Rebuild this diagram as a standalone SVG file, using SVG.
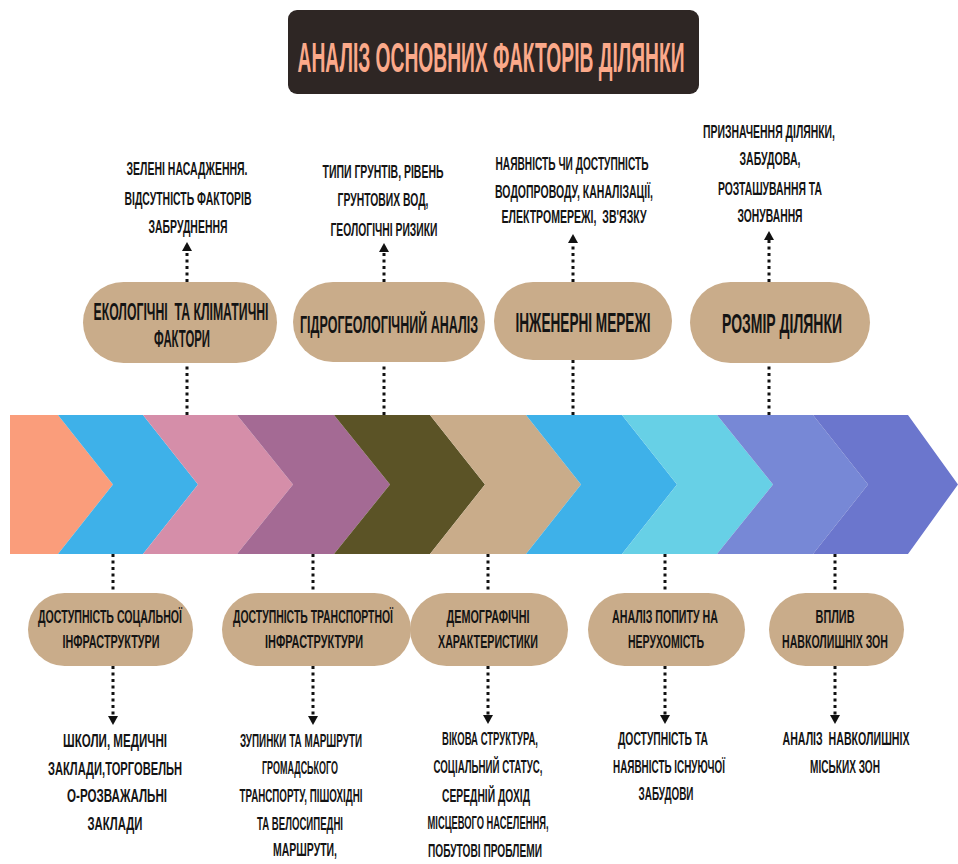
<svg xmlns="http://www.w3.org/2000/svg" width="958" height="864" viewBox="0 0 958 864">
<style>
.t{font-family:"Liberation Sans",Arial,sans-serif;font-weight:bold;fill:#141414;text-anchor:middle}
.s{font-size:18px}
.m{font-size:18.5px}
.l{font-size:23px}
.xl{font-size:28px}
.pre{white-space:pre}
.pill{fill:#c9ac8a}
.dot{stroke:#111;stroke-width:3;stroke-dasharray:3 3.5;fill:none}
</style>
<defs>
<marker id="ah" viewBox="0 0 9 10" refX="0" refY="5" markerWidth="9" markerHeight="10" markerUnits="userSpaceOnUse" orient="auto">
<path d="M0,0 L9,5 L0,10 z" fill="#111"/>
</marker>
</defs>
<rect width="958" height="864" fill="#fff"/>

<g id="title">
<rect x="288" y="10" width="411" height="84" rx="9" fill="#2e2624"/>
<text transform="translate(491,72) scale(0.44,1)" font-size="42" font-family="'Liberation Sans',Arial,sans-serif" font-weight="bold" fill="#fba98a" text-anchor="middle" textLength="879.5" lengthAdjust="spacingAndGlyphs">АНАЛІЗ ОСНОВНИХ ФАКТОРІВ ДІЛЯНКИ</text>
</g>

<g id="band">
<polygon points="10,415 58,415 113,484.5 58,554 10,554" fill="#fa9d7b"/>
<polygon points="58,415 143,415 198,484.5 143,554 58,554 113,484.5" fill="#3eb1e9"/>
<polygon points="143,415 237,415 293,484.5 237,554 143,554 198,484.5" fill="#d58ea9"/>
<polygon points="237,415 334,415 390,484.5 334,554 237,554 293,484.5" fill="#a46a94"/>
<polygon points="334,415 430,415 485,484.5 430,554 334,554 390,484.5" fill="#5b5326"/>
<polygon points="430,415 526,415 581,484.5 526,554 430,554 485,484.5" fill="#c9ac8a"/>
<polygon points="526,415 622,415 677,484.5 622,554 526,554 581,484.5" fill="#3eb1e9"/>
<polygon points="622,415 717,415 773,484.5 717,554 622,554 677,484.5" fill="#67d0e6"/>
<polygon points="717,415 813,415 868,484.5 813,554 717,554 773,484.5" fill="#7788d6"/>
<polygon points="813,415 908,415 958,484.5 908,554 813,554 868,484.5" fill="#6b76cd"/>
</g>

<g id="connectors">
<line class="dot" x1="187" y1="415" x2="187" y2="363"/>
<line class="dot" x1="187" y1="282" x2="187" y2="251" marker-end="url(#ah)"/>
<line class="dot" x1="384" y1="415" x2="384" y2="363"/>
<line class="dot" x1="384" y1="282" x2="384" y2="252" marker-end="url(#ah)"/>
<line class="dot" x1="573" y1="415" x2="573" y2="360"/>
<line class="dot" x1="573" y1="282" x2="573" y2="243" marker-end="url(#ah)"/>
<line class="dot" x1="769" y1="415" x2="769" y2="363"/>
<line class="dot" x1="769" y1="282" x2="769" y2="240" marker-end="url(#ah)"/>

<line class="dot" x1="113" y1="554" x2="113" y2="593"/>
<line class="dot" x1="113" y1="666" x2="113" y2="716" marker-end="url(#ah)"/>
<line class="dot" x1="313" y1="554" x2="313" y2="593"/>
<line class="dot" x1="313" y1="666" x2="313" y2="716" marker-end="url(#ah)"/>
<line class="dot" x1="488" y1="554" x2="488" y2="593"/>
<line class="dot" x1="488" y1="666" x2="488" y2="715" marker-end="url(#ah)"/>
<line class="dot" x1="665" y1="554" x2="665" y2="593"/>
<line class="dot" x1="665" y1="666" x2="665" y2="715" marker-end="url(#ah)"/>
<line class="dot" x1="835" y1="554" x2="835" y2="593"/>
<line class="dot" x1="835" y1="666" x2="835" y2="715" marker-end="url(#ah)"/>
</g>

<g id="eco">
<rect class="pill" x="83" y="282" width="194" height="81" rx="40.5"/>
<text class="t l pre" transform="translate(181,320) scale(0.52,1)" textLength="336.5" lengthAdjust="spacingAndGlyphs">ЕКОЛОГІЧНІ  ТА КЛІМАТИЧНІ</text>
<text class="t l" transform="translate(182,347) scale(0.52,1)" textLength="107.7" lengthAdjust="spacingAndGlyphs">ФАКТОРИ</text>
</g>
<g id="eco-note">
<text class="t s" transform="translate(187,175) scale(0.56,1)" textLength="216.1" lengthAdjust="spacingAndGlyphs">ЗЕЛЕНІ НАСАДЖЕННЯ.</text>
<text class="t s" transform="translate(188,205) scale(0.56,1)" textLength="226.8" lengthAdjust="spacingAndGlyphs">ВІДСУТНІСТЬ ФАКТОРІВ</text>
<text class="t s" transform="translate(188,233) scale(0.56,1)" textLength="141.1" lengthAdjust="spacingAndGlyphs">ЗАБРУДНЕННЯ</text>
</g>

<g id="hydro">
<rect class="pill" x="293" y="282" width="192" height="80" rx="40"/>
<text class="t l" transform="translate(389,333) scale(0.52,1)" textLength="342.3" lengthAdjust="spacingAndGlyphs">ГІДРОГЕОЛОГІЧНИЙ АНАЛІЗ</text>
</g>
<g id="hydro-note">
<text class="t s" transform="translate(383,178) scale(0.56,1)" textLength="216.1" lengthAdjust="spacingAndGlyphs">ТИПИ ГРУНТІВ, РІВЕНЬ</text>
<text class="t s" transform="translate(383,206) scale(0.56,1)" textLength="162.5" lengthAdjust="spacingAndGlyphs">ГРУНТОВИХ ВОД,</text>
<text class="t s" transform="translate(384,236) scale(0.56,1)" textLength="191.1" lengthAdjust="spacingAndGlyphs">ГЕОЛОГІЧНІ РИЗИКИ</text>
</g>

<g id="eng">
<rect class="pill" x="494" y="282" width="178" height="78" rx="39"/>
<text class="t xl" transform="translate(583,332) scale(0.48,1)" textLength="281.3" lengthAdjust="spacingAndGlyphs">ІНЖЕНЕРНІ МЕРЕЖІ</text>
</g>
<g id="eng-note">
<text class="t s" transform="translate(572,170) scale(0.56,1)" textLength="273.2" lengthAdjust="spacingAndGlyphs">НАЯВНІСТЬ ЧИ ДОСТУПНІСТЬ</text>
<text class="t s" transform="translate(574,198) scale(0.56,1)" textLength="282.1" lengthAdjust="spacingAndGlyphs">ВОДОПРОВОДУ, КАНАЛІЗАЦІЇ,</text>
<text class="t s pre" transform="translate(574,223) scale(0.56,1)" textLength="258.9" lengthAdjust="spacingAndGlyphs">ЕЛЕКТРОМЕРЕЖІ,  ЗВ'ЯЗКУ</text>
</g>

<g id="size">
<rect class="pill" x="690" y="282" width="180" height="81" rx="40.5"/>
<text class="t xl" transform="translate(782,333) scale(0.48,1)" textLength="250" lengthAdjust="spacingAndGlyphs">РОЗМІР ДІЛЯНКИ</text>
</g>
<g id="size-note">
<text class="t s" transform="translate(769,138) scale(0.56,1)" textLength="235.7" lengthAdjust="spacingAndGlyphs">ПРИЗНАЧЕННЯ ДІЛЯНКИ,</text>
<text class="t s" transform="translate(770,165) scale(0.56,1)" textLength="108.9" lengthAdjust="spacingAndGlyphs">ЗАБУДОВА,</text>
<text class="t s" transform="translate(770,195) scale(0.56,1)" textLength="185.7" lengthAdjust="spacingAndGlyphs">РОЗТАШУВАННЯ ТА</text>
<text class="t s" transform="translate(770,222) scale(0.56,1)" textLength="116.1" lengthAdjust="spacingAndGlyphs">ЗОНУВАННЯ</text>
</g>

<g id="social">
<rect class="pill" x="28" y="593" width="165" height="73" rx="36.5"/>
<text class="t m" transform="translate(110,623) scale(0.56,1)" textLength="257.1" lengthAdjust="spacingAndGlyphs">ДОСТУПНІСТЬ СОЦАЛЬНОЇ</text>
<text class="t m" transform="translate(111,648) scale(0.56,1)" textLength="173.2" lengthAdjust="spacingAndGlyphs">ІНФРАСТРУКТУРИ</text>
</g>
<g id="social-note">
<text class="t s" transform="translate(115,747) scale(0.56,1)" textLength="185.7" lengthAdjust="spacingAndGlyphs">ШКОЛИ, МЕДИЧНІ</text>
<text class="t s" transform="translate(115,775) scale(0.56,1)" textLength="239.3" lengthAdjust="spacingAndGlyphs">ЗАКЛАДИ,ТОРГОВЕЛЬН</text>
<text class="t s" transform="translate(117,802) scale(0.56,1)" textLength="178.6" lengthAdjust="spacingAndGlyphs">О-РОЗВАЖАЛЬНІ</text>
<text class="t s" transform="translate(115,830) scale(0.56,1)" textLength="98.2" lengthAdjust="spacingAndGlyphs">ЗАКЛАДИ</text>
</g>

<g id="transport">
<rect class="pill" x="222" y="593" width="189" height="73" rx="36.5"/>
<text class="t m" transform="translate(313,623) scale(0.56,1)" textLength="285.7" lengthAdjust="spacingAndGlyphs">ДОСТУПНІСТЬ ТРАНСПОРТНОЇ</text>
<text class="t m" transform="translate(314,648) scale(0.56,1)" textLength="175" lengthAdjust="spacingAndGlyphs">ІНФРАСТРУКТУРИ</text>
</g>
<g id="transport-note">
<text class="t s" transform="translate(301,747) scale(0.56,1)" textLength="217.9" lengthAdjust="spacingAndGlyphs">ЗУПИНКИ ТА МАРШРУТИ</text>
<text class="t s" transform="translate(300,774) scale(0.56,1)" textLength="135.7" lengthAdjust="spacingAndGlyphs">ГРОМАДСЬКОГО</text>
<text class="t s" transform="translate(301,802) scale(0.56,1)" textLength="219.6" lengthAdjust="spacingAndGlyphs">ТРАНСПОРТУ, ПІШОХІДНІ</text>
<text class="t s" transform="translate(300,830) scale(0.56,1)" textLength="153.6" lengthAdjust="spacingAndGlyphs">ТА ВЕЛОСИПЕДНІ</text>
<text class="t s" transform="translate(305,856) scale(0.56,1)" textLength="114.3" lengthAdjust="spacingAndGlyphs">МАРШРУТИ,</text>
</g>

<g id="demo">
<rect class="pill" x="410" y="593" width="158" height="73" rx="36.5"/>
<text class="t m" transform="translate(488,623) scale(0.56,1)" textLength="148.2" lengthAdjust="spacingAndGlyphs">ДЕМОГРАФІЧНІ</text>
<text class="t m" transform="translate(488,648) scale(0.56,1)" textLength="178.6" lengthAdjust="spacingAndGlyphs">ХАРАКТЕРИСТИКИ</text>
</g>
<g id="demo-note">
<text class="t s" transform="translate(490,745) scale(0.56,1)" textLength="171.4" lengthAdjust="spacingAndGlyphs">ВІКОВА СТРУКТУРА,</text>
<text class="t s" transform="translate(488,773) scale(0.56,1)" textLength="194.6" lengthAdjust="spacingAndGlyphs">СОЦІАЛЬНИЙ СТАТУС,</text>
<text class="t s" transform="translate(486,802) scale(0.56,1)" textLength="157.1" lengthAdjust="spacingAndGlyphs">СЕРЕДНІЙ ДОХІД</text>
<text class="t s" transform="translate(488,829) scale(0.56,1)" textLength="216.1" lengthAdjust="spacingAndGlyphs">МІСЦЕВОГО НАСЕЛЕННЯ,</text>
<text class="t s" transform="translate(485,857) scale(0.56,1)" textLength="203.6" lengthAdjust="spacingAndGlyphs">ПОБУТОВІ ПРОБЛЕМИ</text>
</g>

<g id="demand">
<rect class="pill" x="588" y="593" width="157" height="73" rx="36.5"/>
<text class="t m" transform="translate(665,623) scale(0.56,1)" textLength="189.3" lengthAdjust="spacingAndGlyphs">АНАЛІЗ ПОПИТУ НА</text>
<text class="t m" transform="translate(666,648) scale(0.56,1)" textLength="135.7" lengthAdjust="spacingAndGlyphs">НЕРУХОМІСТЬ</text>
</g>
<g id="demand-note">
<text class="t s" transform="translate(663,745) scale(0.56,1)" textLength="160.7" lengthAdjust="spacingAndGlyphs">ДОСТУПНІСТЬ ТА</text>
<text class="t s" transform="translate(669,773) scale(0.56,1)" textLength="200" lengthAdjust="spacingAndGlyphs">НАЯВНІСТЬ ІСНУЮЧОЇ</text>
<text class="t s" transform="translate(666,800) scale(0.56,1)" textLength="98.2" lengthAdjust="spacingAndGlyphs">ЗАБУДОВИ</text>
</g>

<g id="zones">
<rect class="pill" x="769" y="593" width="135" height="73" rx="36.5"/>
<text class="t m" transform="translate(835,623) scale(0.56,1)" textLength="69.6" lengthAdjust="spacingAndGlyphs">ВПЛИВ</text>
<text class="t m" transform="translate(835,648) scale(0.56,1)" textLength="189.3" lengthAdjust="spacingAndGlyphs">НАВКОЛИШНІХ ЗОН</text>
</g>
<g id="zones-note">
<text class="t s pre" transform="translate(846,745) scale(0.56,1)" textLength="226.8" lengthAdjust="spacingAndGlyphs">АНАЛІЗ  НАВКОЛИШНІХ</text>
<text class="t s" transform="translate(845,773) scale(0.56,1)" textLength="125" lengthAdjust="spacingAndGlyphs">МІСЬКИХ ЗОН</text>
</g>
</svg>
